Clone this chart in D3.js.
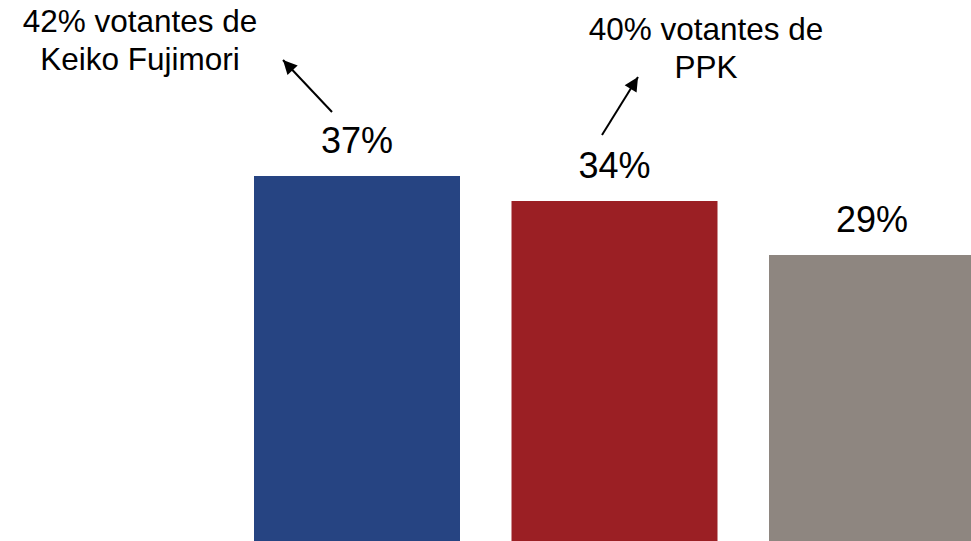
<!DOCTYPE html>
<html>
<head>
<meta charset="utf-8">
<script src="https://cdn.jsdelivr.net/npm/d3@7"></script>
<style>
  html, body { margin: 0; padding: 0; background: #fff; overflow: hidden; }
  svg { display: block; font-family: "Liberation Sans", Arial, sans-serif; }
</style>
</head>
<body>
<svg id="chart" width="971" height="541"></svg>
<script>
// ---- data ----
const categories = ["Keiko Fujimori", "PPK", "Otros"];
const values = [36.5, 34.0, 28.6];
const colors = ["#264482", "#9b1f24", "#8e8680"];
const noteLines = [["42% votantes de", "Keiko Fujimori"], ["40% votantes de", "PPK"]];

// ---- layout ----
const W = 971, H = 541;
const svg = d3.select("#chart");

const x = d3.scaleBand().domain(categories).range([254, 975]).paddingInner(0.2).paddingOuter(0);
const y = d3.scaleLinear().domain([0, 40]).range([H, 141]);

svg.selectAll("rect.bar")
  .data(values)
  .join("rect")
  .attr("class", "bar")
  .attr("x", (d, i) => x(categories[i]))
  .attr("width", x.bandwidth())
  .attr("y", d => y(d))
  .attr("height", d => H - y(d))
  .attr("fill", (d, i) => colors[i]);

svg.selectAll("text.val")
  .data(values)
  .join("text")
  .attr("class", "val")
  .attr("x", (d, i) => x(categories[i]) + x.bandwidth() / 2)
  .attr("y", d => y(d) - 23)
  .attr("text-anchor", "middle")
  .attr("font-size", 36)
  .attr("fill", "#000")
  .text(d => Math.round(d) + "%");

// ---- annotations ----
const notes = [
  { lines: noteLines[0], cx: 140, y0: 32, from: [332, 112], to: [283, 60] },
  { lines: noteLines[1], cx: 706, y0: 40, from: [602, 135], to: [638, 77] }
];

const defs = svg.append("defs");
defs.append("marker")
  .attr("id", "arrow")
  .attr("viewBox", "0 0 10 10")
  .attr("refX", 10).attr("refY", 5)
  .attr("markerWidth", 8).attr("markerHeight", 7)
  .attr("markerUnits", "strokeWidth")
  .attr("orient", "auto")
  .append("path")
  .attr("d", "M0,0 L10,5 L0,10 Z")
  .attr("fill", "#000");

notes.forEach(n => {
  const t = svg.append("text")
    .attr("text-anchor", "middle")
    .attr("font-size", 31.5)
    .attr("fill", "#000");
  n.lines.forEach((l, i) => {
    t.append("tspan").attr("x", n.cx).attr("y", n.y0 + i * 37.5).text(l);
  });
  svg.append("line")
    .attr("x1", n.from[0]).attr("y1", n.from[1])
    .attr("x2", n.to[0]).attr("y2", n.to[1])
    .attr("stroke", "#000")
    .attr("stroke-width", 2)
    .attr("marker-end", "url(#arrow)");
});
</script>
</body>
</html>
